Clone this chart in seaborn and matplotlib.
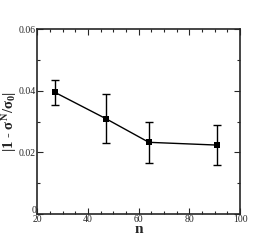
import matplotlib
matplotlib.use("Agg")
import matplotlib.pyplot as plt
import matplotlib.transforms as mtransforms
import seaborn as sns
import numpy as np
from matplotlib.ticker import MultipleLocator

# data
n_vals = [27, 47, 64, 91]
dev = [0.0395, 0.0310, 0.0233, 0.0224]
err = [0.0042, 0.0080, 0.0067, 0.0065]

sns.set_style("ticks")
plt.rcParams['font.family'] = ['Liberation Serif', 'DejaVu Serif']
plt.rcParams['mathtext.fontset'] = 'custom'
plt.rcParams['mathtext.rm'] = 'Liberation Serif:bold'
plt.rcParams['mathtext.it'] = 'Liberation Serif:bold'
plt.rcParams['mathtext.bf'] = 'Liberation Serif:bold'

fig = plt.figure(figsize=(2.71, 2.41), dpi=100)
ax = fig.add_axes([0.138, 0.112, 0.748, 0.766])

sns.lineplot(x=n_vals, y=dev, ax=ax, color='black', linewidth=1.0,
             marker='s', markersize=4, markeredgewidth=0)
ax.errorbar(n_vals, dev, yerr=err, fmt='none', ecolor='black',
            elinewidth=1.0, capsize=3, capthick=1.0)

ax.set_xlim(20, 100)
ax.set_ylim(0, 0.06)
ax.xaxis.set_major_locator(MultipleLocator(20))
ax.xaxis.set_minor_locator(MultipleLocator(5))
ax.yaxis.set_minor_locator(MultipleLocator(0.01))
ax.set_yticks([0, 0.02, 0.04, 0.06])
ax.set_yticklabels(['0', '0.02', '0.04', '0.06'])

ax.tick_params(which='both', direction='in', top=True, right=True,
               labelsize=7, pad=1, width=0.8)
ax.tick_params(which='major', length=4)
ax.tick_params(which='minor', length=2)
for s in ax.spines.values():
    s.set_linewidth(1.2)

# nudge the "0" y label up a bit so it clears the "20"
lab0 = ax.get_yticklabels()[0]
lab0.set_transform(lab0.get_transform() +
                   mtransforms.ScaledTranslation(0, 3 / 72, fig.dpi_scale_trans))

ax.set_xlabel('n', fontsize=11, fontweight='bold', labelpad=-1)
ax.set_ylabel(r'$|1$ - $\sigma^N/\sigma_0|$', fontsize=10.5,
              fontweight='bold')
ax.yaxis.set_label_coords(-0.092, 0.5)

fig.savefig('out.png', dpi=100)
